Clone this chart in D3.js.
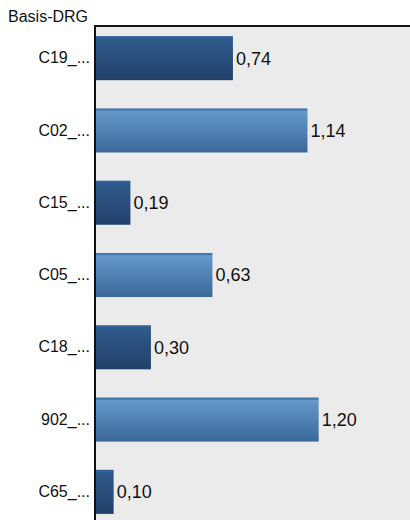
<!DOCTYPE html>
<html>
<head>
<meta charset="utf-8">
<script src="https://cdn.jsdelivr.net/npm/d3@7"></script>
<style>
  body { margin: 0; background: #fff; }
  text { font-family: "Liberation Sans", Arial, sans-serif; }
</style>
</head>
<body>
<script>
// data
var categories = ["C19_...", "C02_...", "C15_...", "C05_...", "C18_...", "902_...", "C65_..."];
var values = [0.74, 1.14, 0.19, 0.63, 0.30, 1.20, 0.10];
var shades = ["dark", "light", "dark", "light", "dark", "light", "dark"];
var axisTitle = "Basis-DRG";

var width = 410, height = 520;
var plot = {left: 95, top: 26, right: 410, bottom: 520};

var svg = d3.select("body").append("svg")
    .attr("width", width)
    .attr("height", height);

// gradients for the two bar shades
var defs = svg.append("defs");
var grads = {
    dark: ["#31609a", "#2e5b8c", "#22406a"],
    light: ["#4676a9", "#6598cb", "#3a6899"]
};
Object.keys(grads).forEach(function (k) {
    var g = defs.append("linearGradient")
        .attr("id", "grad-" + k)
        .attr("x1", 0).attr("y1", 0).attr("x2", 0).attr("y2", 1);
    g.append("stop").attr("offset", "0%").attr("stop-color", grads[k][0]);
    g.append("stop").attr("offset", "4%").attr("stop-color", grads[k][0]);
    g.append("stop").attr("offset", "6%").attr("stop-color", grads[k][1]);
    g.append("stop").attr("offset", "100%").attr("stop-color", grads[k][2]);
});

var y = d3.scaleBand()
    .domain(categories)
    .range([22, 528])
    .paddingInner(0.39)
    .paddingOuter(0.195);

var x = d3.scaleLinear()
    .domain([0, 1.69])
    .range([plot.left, plot.right]);

// plot background
svg.append("rect")
    .attr("x", plot.left)
    .attr("y", plot.top)
    .attr("width", plot.right - plot.left)
    .attr("height", plot.bottom - plot.top)
    .attr("fill", "#ebebeb");

// bars
svg.selectAll(".bar")
    .data(categories)
    .enter().append("rect")
    .attr("class", "bar")
    .attr("x", x(0))
    .attr("y", function (d) { return y(d); })
    .attr("width", function (d, i) { return x(values[i]) - x(0); })
    .attr("height", y.bandwidth())
    .attr("fill", function (d, i) { return "url(#grad-" + shades[i] + ")"; });

// value labels
svg.selectAll(".value")
    .data(categories)
    .enter().append("text")
    .attr("class", "value")
    .attr("x", function (d, i) { return x(values[i]) + 3; })
    .attr("y", function (d) { return y(d) + y.bandwidth() / 2; })
    .attr("dy", "0.36em")
    .attr("font-size", "18px")
    .attr("fill", "#111")
    .text(function (d, i) { return d3.format(".2f")(values[i]).replace(".", ","); });

// category axis
var yAxis = svg.append("g")
    .attr("transform", "translate(" + plot.left + ",0)")
    .call(d3.axisLeft(y).tickSize(0).tickPadding(5));
yAxis.select(".domain").remove();
yAxis.selectAll("text")
    .attr("font-family", "Liberation Sans, Arial, sans-serif")
    .attr("font-size", "16px")
    .attr("fill", "#111");

// frame lines: left and top
svg.append("line")
    .attr("x1", plot.left).attr("x2", plot.left)
    .attr("y1", plot.top).attr("y2", plot.bottom)
    .attr("stroke", "#111")
    .attr("stroke-width", 2);
svg.append("line")
    .attr("x1", plot.left - 1).attr("x2", plot.right)
    .attr("y1", plot.top).attr("y2", plot.top)
    .attr("stroke", "#111")
    .attr("stroke-width", 2);

// axis title
svg.append("text")
    .attr("x", 8)
    .attr("y", 22)
    .attr("font-size", "16px")
    .attr("fill", "#111")
    .text(axisTitle);
</script>
</body>
</html>
